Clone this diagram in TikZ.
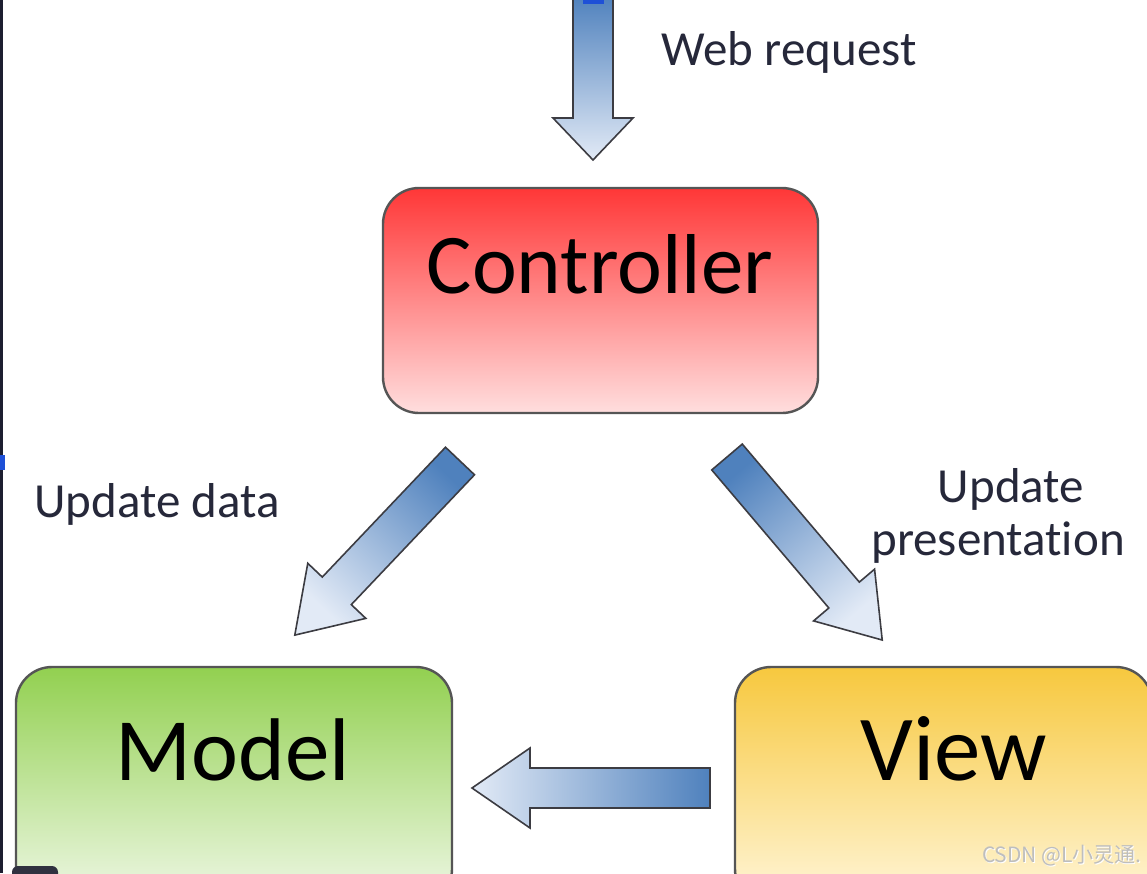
\documentclass[tikz,border=0pt]{standalone}
\usepackage{fontspec}
\setmainfont{Carlito}[Ligatures=NoCommon]
\newfontfamily\cjk{Noto Sans CJK SC}
\definecolor{ctrlTop}{RGB}{255,55,55}
\definecolor{ctrlMid}{RGB}{255,150,150}
\definecolor{ctrlBot}{RGB}{255,222,222}
\definecolor{modTop}{RGB}{146,208,80}
\definecolor{modMid}{RGB}{192,228,158}
\definecolor{modBot}{RGB}{240,248,232}
\definecolor{viewTop}{RGB}{247,200,62}
\definecolor{viewMid}{RGB}{252,228,150}
\definecolor{viewBot}{RGB}{255,246,218}
\definecolor{boxLine}{RGB}{85,85,85}
\definecolor{arrDark}{RGB}{79,129,189}
\definecolor{arrLight}{RGB}{226,234,246}
\definecolor{arrLine}{RGB}{60,60,66}
\definecolor{lblcol}{RGB}{38,40,58}
\definecolor{wmcol}{RGB}{190,190,190}
\definecolor{edgecol}{RGB}{28,30,48}
\definecolor{markblue}{RGB}{30,80,215}
\tikzset{
  box/.style={draw=boxLine, line width=2.4pt, rounded corners=36pt, inner sep=0pt},
  boxtext/.style={font=\fontsize{#1}{#1}\selectfont, text=black, inner sep=0pt, anchor=base},
  lbl/.style={font=\fontsize{49}{56}\selectfont, text=lblcol, inner sep=0pt, anchor=base},
  blockarrow/.style={draw=arrLine, line width=1.6pt, line join=miter, top color=arrDark, bottom color=arrLight}
}
\newcommand{\blockarr}[5]{%
  \begin{scope}[shift={#1},rotate=#2]
    \pgfmathsetmacro{\bx}{#3-#4}
    \draw[blockarrow, shading angle=#5] (0pt,-20pt) -- (\bx pt,-20pt) -- (\bx pt,-40pt)
      -- (#3pt,0pt) -- (\bx pt,40pt) -- (\bx pt,20pt) -- (0pt,20pt) -- cycle;
  \end{scope}}
\begin{document}
\begin{tikzpicture}[x=1pt,y=-1pt]
\useasboundingbox (0,0) rectangle (1147,873);
\clip (0,0) rectangle (1147,873);
\fill[white] (0,0) rectangle (1147,873);

% boxes
\node[box, top color=ctrlTop, middle color=ctrlMid, bottom color=ctrlBot,
      minimum width=435pt, minimum height=225pt] (controller) at (600.5,300.5) {};
\node[box, top color=modTop, middle color=modMid, bottom color=modBot,
      minimum width=436pt, minimum height=238pt] (model) at (234,786) {};
\node[box, top color=viewTop, middle color=viewMid, bottom color=viewBot,
      minimum width=417pt, minimum height=238pt] (view) at (943.5,786) {};

\node[boxtext=85] (ctrltxt) at (600,293) {Controller};
\node[boxtext=89] (modtxt) at (233,780) {Model};
\node[boxtext=93] (viewtxt) at (954,780) {View};

% block arrows
\blockarr{(593,-5)}{-90}{165}{42}{0}
\blockarr{(460,461)}{-133.5}{240}{61}{-43.5}
\blockarr{(727,457)}{-49.7}{240}{59}{40.3}
\blockarr{(710,788)}{180}{238}{58}{270}

% labels
\node[lbl] (web) at (789,65) {Web request};
\node[lbl] (upddata) at (157,517) {Update data};
\node[lbl] (upd1) at (1011,502) {Update};
\node[lbl] (upd2) at (998,555) {presentation};

% watermark
\node[anchor=base east, inner sep=0pt, font=\cjk\fontsize{21}{24}\selectfont, text=white] (wmshadow) at (1143,863) {CSDN @L小灵通.};
\node[anchor=base east, inner sep=0pt, font=\cjk\fontsize{21}{24}\selectfont, text=wmcol] (wm) at (1142,862) {CSDN @L小灵通.};

% screenshot edge marks
\fill[edgecol] (0,0) rectangle (2.5,873);
\fill[markblue] (0,455) rectangle (5,470);
\fill[markblue] (583,0) rectangle (604,4);
\fill[edgecol!80!gray, rounded corners=6pt] (12,866) rectangle (58,890);
\end{tikzpicture}
\end{document}
